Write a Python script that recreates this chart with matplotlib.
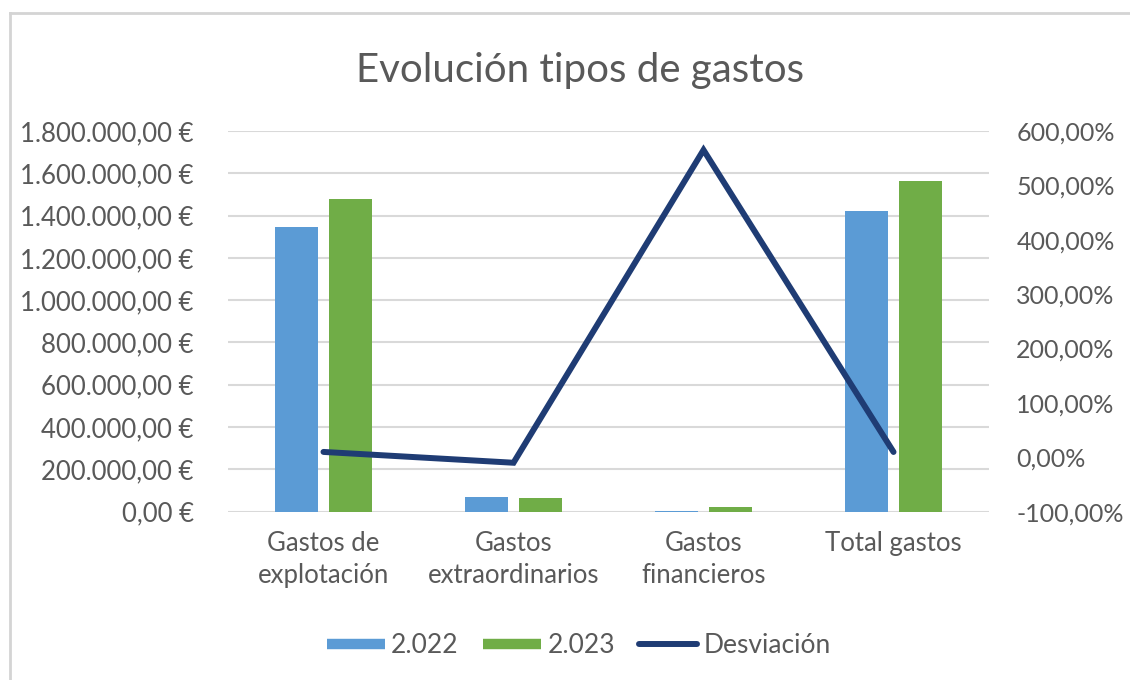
import matplotlib.pyplot as plt
from matplotlib.lines import Line2D
from matplotlib.ticker import FuncFormatter, MultipleLocator
import numpy as np

plt.rcParams['font.family'] = ['Lato', 'DejaVu Sans']

# datos
categorias = ['Gastos de\nexplotación', 'Gastos\nextraordinarios', 'Gastos\nfinancieros', 'Total gastos']
gastos_2022 = [1344700, 70900, 3300, 1423200]
gastos_2023 = [1478500, 63400, 22000, 1562000]
desviacion = [9.9, -10.0, 565.0, 9.8]   # en %

col_2022 = '#5B9BD5'
col_2023 = '#70AD47'
col_desv = '#1F3C74'
gris = '#595959'
rejilla = '#D9D9D9'

fig = plt.figure(figsize=(11.3, 6.8), dpi=100)
ax = fig.add_axes([0.2022, 0.2475, 0.6726, 0.5599])

x = np.arange(len(categorias))
ancho = 0.224
ax.bar(x - 0.143, gastos_2022, ancho, color=col_2022, zorder=2)
ax.bar(x + 0.143, gastos_2023, ancho, color=col_2023, zorder=2)

ax.set_xlim(-0.5, 3.5)
ax.set_ylim(0, 1800000)
ax.yaxis.set_major_locator(MultipleLocator(200000))


def euros(v, pos):
    s = f'{v:,.2f}'.replace(',', 'X').replace('.', ',').replace('X', '.')
    return s + ' €'


ax.yaxis.set_major_formatter(FuncFormatter(euros))
ax.grid(axis='y', color=rejilla, lw=1.5, zorder=0)
ax.set_xticks(x)
ax.set_xticklabels(categorias, linespacing=1.35)
for s in ax.spines.values():
    s.set_visible(False)
ax.tick_params(axis='both', length=0, labelsize=18.5, colors=gris)
ax.tick_params(axis='y', pad=25)
ax.tick_params(axis='x', pad=14)

ax2 = ax.twinx()
ax2.plot(x, desviacion, color=col_desv, lw=4.3, solid_capstyle='round',
         solid_joinstyle='miter', zorder=3)
ax2.set_ylim(-100, 600)
ax2.yaxis.set_major_locator(MultipleLocator(100))
ax2.yaxis.set_major_formatter(FuncFormatter(lambda v, p: f'{v:.2f}%'.replace('.', ',')))
for s in ax2.spines.values():
    s.set_visible(False)
ax2.tick_params(axis='y', length=0, labelsize=18, colors=gris, pad=20)

fig.text(0.513, 0.896, 'Evolución tipos de gastos', ha='center', va='center',
         fontsize=29, color=gris)

handles = [Line2D([], [], color=col_2022, lw=7.5, solid_capstyle='butt'),
           Line2D([], [], color=col_2023, lw=7.5, solid_capstyle='butt'),
           Line2D([], [], color=col_desv, lw=4.3, solid_capstyle='round')]
fig.legend(handles, ['2.022', '2.023', 'Desviación'], loc='center',
           bbox_to_anchor=(0.512, 0.051), ncol=3, frameon=False, fontsize=19,
           handlelength=2.2, handletextpad=0.25, columnspacing=0.9,
           labelcolor=gris)

# borde del gráfico
fig.add_artist(Line2D([10 / 1130, 1], [1 - 13 / 680, 1 - 13 / 680],
                      color='#D4D4D4', lw=2, transform=fig.transFigure))
fig.add_artist(Line2D([10 / 1130, 10 / 1130], [0, 1 - 13 / 680],
                      color='#D4D4D4', lw=2, transform=fig.transFigure))

fig.savefig('out.png', dpi=100)
